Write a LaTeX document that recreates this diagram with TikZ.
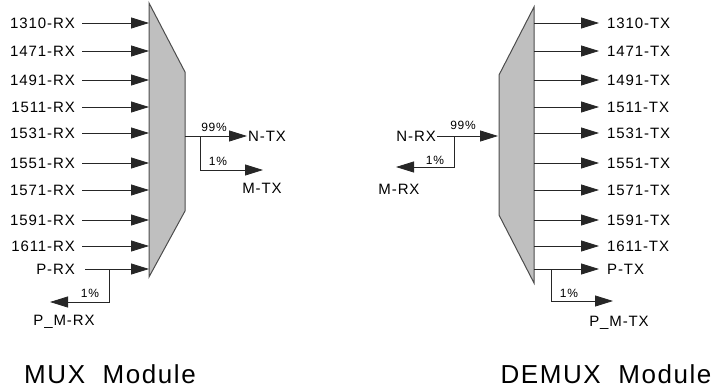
\documentclass[tikz,border=0pt]{standalone}
\usepackage{fontspec}
\setmainfont{Liberation Sans}[LetterSpace=6]
\usetikzlibrary{arrows.meta}
\tikzstyle{lbl} = [font=\fontsize{15}{15}\selectfont, inner sep=1pt]
\tikzstyle{pct} = [font=\fontsize{12}{12}\selectfont, inner sep=0pt]
\tikzstyle{sig} = [draw=black!85, line width=.8pt, -{Triangle[length=18pt,width=11pt]}]
\tikzstyle{module} = [draw=black!70, line width=1pt, fill=black!25]
\tikzstyle{title} = [font=\fontsize{26}{26}\selectfont, inner sep=0pt]

\begin{document}
\begin{tikzpicture}[x=1pt,y=-1pt]
\useasboundingbox (0,0) rectangle (719,391);
% MUX side
\draw[module] (149,3) -- (185,72) -- (185,211) -- (149,277) -- cycle;
\foreach \w/\y in {1310/23,1471/51,1491/80,1511/107,1531/133,1551/163,1571/190,1591/220,1611/246}{
  \node[lbl, anchor=east] (rx\w) at (76,\y) {\w-RX};
  \coordinate (mi\w) at (149,\y);
  \draw[sig, shorten <=6pt] (rx\w) -- (mi\w);
}
\node[lbl, anchor=east] (prx) at (76,269) {P-RX};
\coordinate (mip) at (149,269);
\coordinate (ptap) at (109,269);
\coordinate (pmend) at (50,302);
\draw[sig, shorten <=9pt] (prx) -- (mip);
\draw[sig] (ptap) |- (pmend);
\node[pct] (prx1) at (90,293) {1\%};
\node[lbl] (pmrx) at (64,322) {P\_M-RX};
\coordinate (mo) at (185,136);
\coordinate (mtap) at (200,136);
\coordinate (mtend) at (263,170);
\node[lbl, anchor=west] (ntx) at (247,136) {N-TX};
\draw[sig] (mo) -- (ntx);
\draw[sig] (mtap) |- (mtend);
\node[pct] (ntx99) at (214,127) {99\%};
\node[pct] (mtx1) at (218,161) {1\%};
\node[lbl] (mtx) at (262,188) {M-TX};
\node[title] (muxt) at (110,374) {MUX\ \ Module};
% DEMUX side
\draw[module] (534,7) -- (534,283) -- (499,215) -- (499,75) -- cycle;
\foreach \w/\y in {1310/23,1471/51,1491/80,1511/107,1531/133,1551/163,1571/190,1591/220,1611/246}{
  \coordinate (do\w) at (534,\y);
  \node[lbl, anchor=west] (tx\w) at (606,\y) {\w-TX};
  \draw[sig, shorten >=7pt] (do\w) -- (tx\w);
}
\coordinate (dop) at (534,269);
\coordinate (dtap) at (551,269);
\coordinate (pmtend) at (613,301);
\node[lbl, anchor=west] (ptx) at (606,269) {P-TX};
\draw[sig, shorten >=7pt] (dop) -- (ptx);
\draw[sig] (dtap) |- (pmtend);
\node[pct] (ptx1) at (569,293) {1\%};
\node[lbl] (pmtx) at (619,323) {P\_M-TX};
\node[lbl, anchor=east] (nrx) at (437,136) {N-RX};
\coordinate (di) at (498,136);
\coordinate (ntap) at (454,136);
\coordinate (mrend) at (396,167);
\draw[sig] (nrx) -- (di);
\draw[sig] (ntap) |- (mrend);
\node[pct] (nrx99) at (463,125) {99\%};
\node[pct] (mrx1) at (435,160) {1\%};
\node[lbl] (mrx) at (399,189) {M-RX};
\node[title] (demuxt) at (606,374) {DEMUX\ \ Module};
\end{tikzpicture}
\end{document}
